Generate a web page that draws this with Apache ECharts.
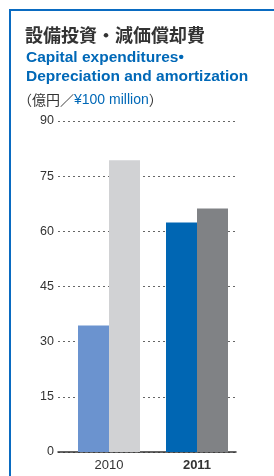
<!DOCTYPE html>
<html>
<head>
<meta charset="utf-8">
<script src="https://cdn.jsdelivr.net/npm/echarts@6/dist/echarts.min.js"></script>
<style>
  html, body { margin: 0; padding: 0; background: #fff; }
  #chart { width: 274px; height: 476px; }
</style>
</head>
<body>
<div id="chart"></div>
<script>
// データ（億円）
const years = ['2010', '2011']
const capex = [34.4, 62.4]          // 設備投資
const depreciation = [79.3, 66.2]   // 減価償却費

// 年ごとの色
const capexColors = ['#6b93cf', '#0066b3']
const deprColors = ['#d1d2d4', '#808285']

const font = 'Liberation Sans, Arial, sans-serif'

const chart = echarts.init(document.getElementById('chart'))

chart.setOption({
  animation: false,
  title: [
    {
      text: '設備投資・減価償却費',
      left: 25,
      top: 26,
      padding: 0,
      textStyle: { fontFamily: 'Noto Sans CJK JP', fontSize: 18, lineHeight: 18, fontWeight: 'bold', color: '#333' },
    },
    {
      text: 'Capital expenditures•\nDepreciation and amortization',
      left: 26,
      top: 48,
      padding: 0,
      textStyle: {
        fontFamily: font,
        fontSize: 15.5,
        lineHeight: 19,
        fontWeight: 'bold',
        color: '#0068b7',
      },
    },
    {
      text: '{a|（億円／}{b|¥100 million}{a|）}',
      left: 18,
      top: 93,
      padding: 0,
      textStyle: {
        fontWeight: 'normal',
        rich: {
          a: { fontFamily: 'Noto Sans CJK JP', fontSize: 14, fontWeight: 'normal', color: '#333' },
          b: { fontFamily: font, fontSize: 14, fontWeight: 'normal', color: '#0068b7' },
        },
      },
    },
  ],
  // 枠線
  graphic: [
    {
      type: 'polyline',
      shape: { points: [[10, 476], [10, 10], [274, 10]] },
      style: { stroke: '#0a6bc1', lineWidth: 2, fill: null },
    },
  ],
  grid: [
    { left: 58, right: 38, top: 121, bottom: 24 },
    { left: 65, right: 33, top: 121, bottom: 24 },
  ],
  xAxis: [
    {
      gridIndex: 0,
      type: 'value',
      min: 0,
      max: 1,
      axisLine: { show: true, lineStyle: { color: '#333', width: 1.5 } },
      axisTick: { show: false },
      axisLabel: { show: false },
      splitLine: { show: false },
    },
    {
      gridIndex: 1,
      type: 'category',
      data: years,
      axisLine: { show: false },
      axisTick: { show: false },
      axisLabel: {
        margin: 7,
        fontFamily: font,
        fontSize: 13,
        color: '#333',
        formatter: (v) => (v === '2011' ? '{b|' + v + '}' : v),
        rich: {
          b: { fontFamily: font, fontSize: 13, fontWeight: 'bold', color: '#333' },
        },
      },
    },
  ],
  yAxis: [
    {
      gridIndex: 0,
      type: 'value',
      min: 0,
      max: 90,
      interval: 15,
      axisLine: { show: false },
      axisTick: { show: false },
      axisLabel: { margin: 4, fontFamily: font, fontSize: 12.5, color: '#333' },
      splitLine: { show: true, lineStyle: { color: '#666', type: [2, 3], width: 1 } },
    },
    {
      gridIndex: 1,
      type: 'value',
      min: 0,
      max: 90,
      show: false,
    },
  ],
  series: [
    {
      type: 'bar',
      xAxisIndex: 1,
      yAxisIndex: 1,
      barWidth: 31,
      barGap: '0%',
      data: capex.map((v, i) => ({ value: v, itemStyle: { color: capexColors[i] } })),
    },
    {
      type: 'bar',
      xAxisIndex: 1,
      yAxisIndex: 1,
      barWidth: 31,
      barGap: '0%',
      data: depreciation.map((v, i) => ({ value: v, itemStyle: { color: deprColors[i] } })),
    },
  ],
})
</script>
</body>
</html>
